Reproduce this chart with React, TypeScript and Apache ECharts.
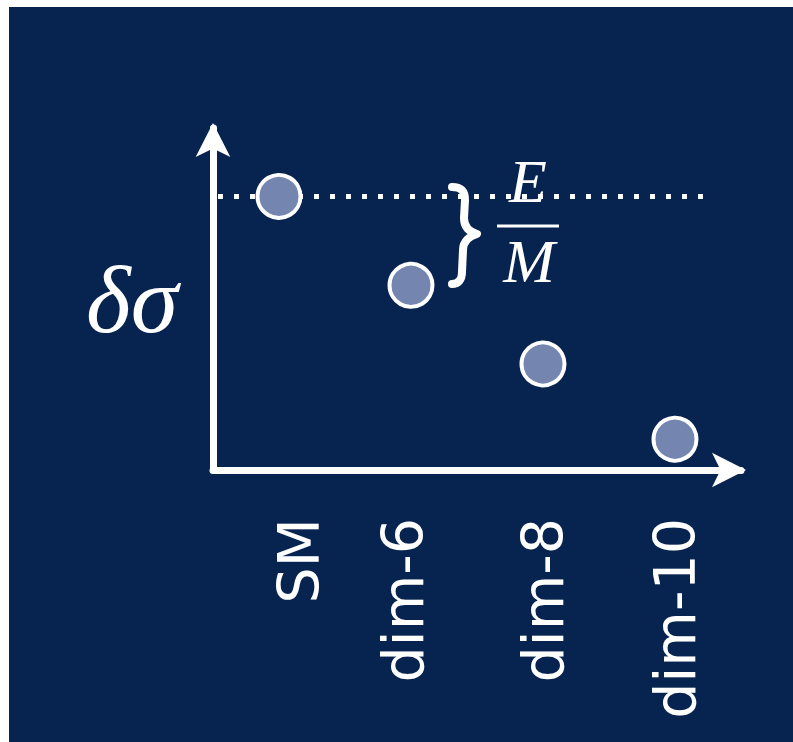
import React, { useEffect, useRef } from "react";
import * as echarts from "echarts";

// Model categories along the x axis and the size of the deviation for each
const categories = ["SM", "dim-6", "dim-8", "dim-10"];
const deltaSigma = [8.0, 5.4, 3.1, 0.9];
const yAxisName = "δσ";
const fractionTop = "E";
const fractionBottom = "M";

const NAVY = "#07234f";
const WHITE = "#ffffff";
const POINT_FILL = "#7485b0";

// Curly brace next to the gap between the SM level and dim-6
const BRACE_PATH =
  "M 5 5 C 15 5, 18 10, 18 18 L 17 36 C 17 46, 23 50, 30 52 C 23 54, 16 59, 16 68 L 15 90 C 15 98, 11 102, 5 102";
echarts.graphic.registerShape("brace", echarts.graphic.extendPath(BRACE_PATH, {}));

export default function App() {
  const ref = useRef<HTMLDivElement>(null);

  useEffect(() => {
    if (!ref.current) return;
    const chart = echarts.init(ref.current, undefined, { renderer: "svg" });

    // Arrow tip sits a few pixels past the end of the axis line
    const arrowAxisLine = {
      show: true,
      symbol: ["none", "arrow"],
      symbolSize: [26, 34],
      symbolOffset: [0, 5],
      lineStyle: { color: WHITE, width: 7 },
    };

    chart.setOption({
      animation: false,
      backgroundColor: NAVY,
      grid: {
        left: 204,
        top: 121,
        right: 52,
        bottom: 272,
        containLabel: false,
        outerBoundsMode: "none",
      },
      xAxis: {
        type: "category",
        data: categories,
        boundaryGap: true,
        axisLine: arrowAxisLine,
        axisTick: { show: false },
        splitLine: { show: false },
        axisLabel: {
          rotate: 90,
          margin: 48,
          color: WHITE,
          fontSize: 57,
          fontFamily: "DejaVu Sans",
          interval: 0,
          // small sideways nudges for the first two labels
          formatter: (v: string) =>
            v === "SM" ? `{right|${v}}` : v === "dim-6" ? `{left|${v}}` : v,
          rich: {
            right: { padding: [40, 0, 0, 0] },
            left: { padding: [0, 0, 16, 0] },
          },
        },
      },
      yAxis: {
        type: "value",
        min: 0,
        max: 10,
        name: yAxisName,
        nameLocation: "middle",
        nameRotate: 0,
        nameGap: 35,
        nameTextStyle: {
          color: WHITE,
          fontSize: 96,
          fontFamily: "Liberation Serif",
          fontStyle: "italic",
          padding: [0, 0, 26, 0],
        },
        axisLine: arrowAxisLine,
        axisTick: { show: false },
        axisLabel: { show: false },
        splitLine: { show: false },
      },
      series: [
        {
          type: "scatter",
          data: deltaSigma,
          symbol: "circle",
          symbolSize: 43,
          z: 10,
          itemStyle: {
            color: POINT_FILL,
            borderColor: WHITE,
            borderWidth: 4,
            opacity: 1,
          },
          emphasis: { disabled: true },
          markLine: {
            silent: true,
            z: 1,
            symbol: ["none", "none"],
            label: { show: false },
            lineStyle: { color: WHITE, width: 5, type: [5, 11], cap: "butt" },
            emphasis: { disabled: true },
            data: [[{ x: 209, yAxis: deltaSigma[0] }, { x: 705, yAxis: deltaSigma[0] }]],
          },
        },
      ],
      graphic: [
        {
          type: "brace",
          x: 438,
          y: 175,
          style: {
            fill: "none",
            stroke: WHITE,
            lineWidth: 8,
            lineCap: "round",
            lineJoin: "round",
          },
        },
        {
          type: "text",
          x: 519,
          y: 174,
          style: {
            text: fractionTop,
            fill: WHITE,
            font: "italic 62px 'Liberation Serif'",
            textAlign: "center",
            textVerticalAlign: "middle",
          },
        },
        {
          type: "line",
          shape: { x1: 488, y1: 219, x2: 550, y2: 219 },
          style: { stroke: WHITE, lineWidth: 3 },
        },
        {
          type: "text",
          x: 520,
          y: 254,
          style: {
            text: fractionBottom,
            fill: WHITE,
            font: "italic 62px 'Liberation Serif'",
            textAlign: "center",
            textVerticalAlign: "middle",
          },
        },
      ],
    });

    return () => chart.dispose();
  }, []);

  return (
    <div
      ref={ref}
      style={{ position: "fixed", left: 9, top: 7, width: 784, height: 735 }}
    />
  );
}
